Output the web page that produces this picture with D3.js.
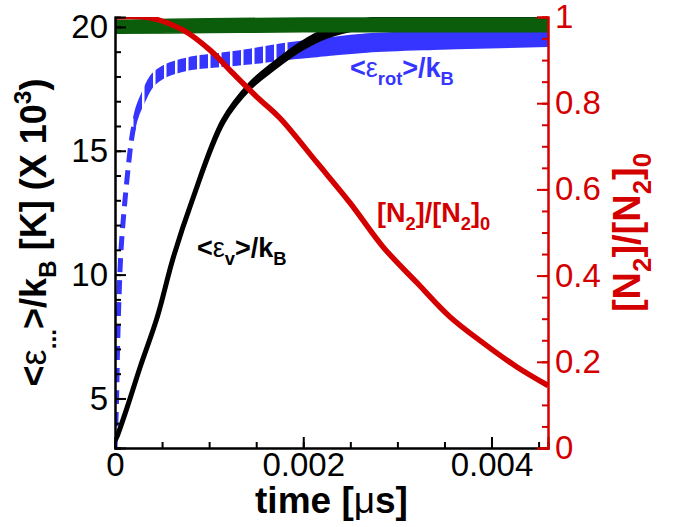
<!DOCTYPE html>
<html>
<head>
<meta charset="utf-8">
<script src="https://cdn.jsdelivr.net/npm/d3@7"></script>
<style>
  body { margin: 0; background: #fff; }
  svg { font-family: "Liberation Sans", Arial, sans-serif; }
</style>
</head>
<body>
<svg width="683" height="527"></svg>
<script>
// values (time in microseconds)
const vibTime  = [0, 0.00002, 0.00013, 0.00027, 0.00045, 0.00062, 0.00082, 0.00115, 0.00143, 0.00168, 0.00197, 0.00225, 0.00268, 0.00303, 0.0035, 0.004, 0.0046];
const vibTemp  = [3.3, 3.45, 4.65, 6.3, 8.3, 10.7, 13.0, 16.2, 17.6, 18.4, 19.2, 19.75, 20.15, 20.3, 20.32, 20.33, 20.33];
const vibNoise = [0, 0, 0, 0, 0, 0, 0, 0.03, 0.06, 0.08, 0.1, 0.12, 0.12, 0.12, 0.12, 0.12, 0.12];

const rotTime  = [0, 0.000016, 0.000027, 0.000042, 0.000064, 0.000106, 0.00016, 0.00019, 0.00023, 0.0003, 0.0004, 0.00055, 0.00077, 0.00108, 0.00143, 0.00179, 0.00215, 0.00268, 0.00338, 0.00409, 0.0046];
const rotTemp  = [3.0, 4.9, 7.0, 9.0, 11.0, 13.0, 15.0, 15.8, 16.5, 17.15, 17.85, 18.25, 18.5, 18.65, 18.8, 19.0, 19.15, 19.35, 19.47, 19.55, 19.6];
const rotNoise = [0, 0, 0, 0, 0, 0, 0.05, 0.1, 0.15, 0.18, 0.2, 0.2, 0.2, 0.22, 0.25, 0.28, 0.3, 0.32, 0.33, 0.34, 0.34];

const trTime  = [0, 0.001, 0.002, 0.003, 0.004, 0.0046];
const trTemp  = [20.0, 20.05, 20.08, 20.08, 20.08, 20.08];
const trNoise = [0.26, 0.28, 0.28, 0.28, 0.28, 0.28];

const n2Time = [0, 0.00037, 0.00072, 0.00101, 0.00125, 0.00151, 0.00175, 0.00215, 0.0025, 0.00285, 0.00321, 0.00356, 0.00391, 0.00427, 0.0046];
const n2Frac = [1.0, 0.998, 0.970, 0.923, 0.870, 0.814, 0.766, 0.661, 0.568, 0.466, 0.383, 0.304, 0.244, 0.188, 0.145];

const xMajor = [0, 0.002, 0.004];
const yMajor = [5, 10, 15, 20];
const rMajor = [0, 0.2, 0.4, 0.6, 0.8, 1];

const red = '#d40000', blue = '#3535ff', green = '#0b5d0b';

const svg = d3.select('svg');
const L = 115, R = 548, T = 17, B = 448;

const x = d3.scaleLinear().domain([0, 0.0046]).range([L, R]);
const yL = d3.scaleLinear().domain([3, 20.4]).range([B, T]);
const yR = d3.scaleLinear().domain([0, 1]).range([B, T]);

const defs = svg.append('defs');
defs.append('clipPath').attr('id', 'plot')
  .append('rect').attr('x', L).attr('y', T).attr('width', R - L).attr('height', B - T);

// vertical gaps that give the blue band its dashed look
const mask = defs.append('mask').attr('id', 'dash');
mask.append('rect').attr('x', 0).attr('y', 0).attr('width', 683).attr('height', 527).attr('fill', '#fff');
mask.selectAll('rect.gap')
  .data(d3.range(131, 290, 11))
  .enter()
  .append('rect')
  .attr('class', 'gap')
  .attr('x', d => d)
  .attr('y', 0)
  .attr('width', 2.5)
  .attr('height', 527)
  .attr('fill', '#000');

const zip = (t, v, n) => t.map((d, i) => ({t: d, v: v[i], n: n ? n[i] : 0}));
const vib = zip(vibTime, vibTemp, vibNoise),
      rot = zip(rotTime, rotTemp, rotNoise),
      tr = zip(trTime, trTemp, trNoise),
      n2 = zip(n2Time, n2Frac);

const smooth = d3.curveCatmullRom.alpha(0.5);
const band = d3.area()
  .x(d => x(d.t))
  .y0(d => yL(d.v - d.n))
  .y1(d => yL(d.v + d.n))
  .curve(smooth);
const lineL = d3.line().x(d => x(d.t)).y(d => yL(d.v)).curve(smooth);
const lineR = d3.line().x(d => x(d.t)).y(d => yR(d.v)).curve(smooth);

const plot = svg.append('g').attr('clip-path', 'url(#plot)');

// rotational energy (blue, dashed)
plot.append('path')
  .attr('d', lineL(rot.filter(d => d.t <= 0.00023)))
  .attr('fill', 'none')
  .attr('stroke', blue)
  .attr('stroke-width', 5)
  .attr('stroke-dasharray', '14,8');
plot.append('path')
  .attr('d', band(rot.filter(d => d.t >= 0.00019)))
  .attr('fill', blue)
  .attr('stroke', blue)
  .attr('stroke-width', 3.5)
  .attr('mask', 'url(#dash)');

// vibrational energy (black)
plot.append('path')
  .attr('d', band(vib))
  .attr('fill', '#000')
  .attr('stroke', '#000')
  .attr('stroke-width', 5)
  .attr('stroke-linejoin', 'round');

// translational (green)
plot.append('path')
  .attr('d', band(tr))
  .attr('fill', green)
  .attr('stroke', green)
  .attr('stroke-width', 1.5);

// N2 fraction (red, right axis)
plot.append('path')
  .attr('d', lineR(n2))
  .attr('fill', 'none')
  .attr('stroke', red)
  .attr('stroke-width', 5.5);

// axes
const tickFont = 33;

function styleAxis(g, color) {
  g.select('.domain').attr('stroke', color).attr('stroke-width', 2);
  g.selectAll('.tick line').attr('stroke', color).attr('stroke-width', 2);
  g.selectAll('.tick text').attr('fill', color).attr('font-size', tickFont)
    .attr('font-family', '"Liberation Sans", Arial, sans-serif');
}

svg.append('g')
  .attr('transform', `translate(0,${B})`)
  .call(d3.axisBottom(x).tickValues(d3.range(0, 0.00461, 0.0005)).tickSize(-6).tickFormat(''))
  .call(g => styleAxis(g, '#000'));
svg.append('g')
  .attr('transform', `translate(0,${B})`)
  .call(d3.axisBottom(x).tickValues(xMajor).tickSize(-11).tickPadding(5).tickFormat(d => d === 0 ? '0' : d3.format('.3f')(d)))
  .call(g => styleAxis(g, '#000'));

svg.append('g')
  .attr('transform', `translate(${L},0)`)
  .call(d3.axisLeft(yL).tickValues(d3.range(3, 20.5, 1)).tickSize(-6).tickFormat(''))
  .call(g => styleAxis(g, '#000'));
svg.append('g')
  .attr('transform', `translate(${L},0)`)
  .call(d3.axisLeft(yL).tickValues(yMajor).tickSize(-11).tickPadding(7))
  .call(g => styleAxis(g, '#000'));

svg.append('g')
  .attr('transform', `translate(${R},0)`)
  .call(d3.axisRight(yR).tickValues(d3.range(0, 1.01, 0.05)).tickSize(-6).tickFormat(''))
  .call(g => styleAxis(g, red));
svg.append('g')
  .attr('transform', `translate(${R},0)`)
  .call(d3.axisRight(yR).tickValues(rMajor).tickSize(-11).tickPadding(7).tickFormat(d => d === 0 || d === 1 ? d3.format('d')(d) : d3.format('.1f')(d)))
  .call(g => styleAxis(g, red));

// text with sub/superscripts
function rich(sel, parts, size) {
  let shift = 0;
  parts.forEach(([s, kind, light]) => {
    const target = kind === 'sub' ? 0.28 * size : kind === 'sup' ? -0.42 * size : 0;
    const t = sel.append('tspan').text(s).attr('dy', target - shift);
    shift = target;
    if (kind !== 'n') t.attr('font-size', size * 0.68);
    if (light) t.attr('font-weight', 'normal');
  });
}

const xTitle = svg.append('text')
  .attr('x', (L + R) / 2).attr('y', 513)
  .attr('text-anchor', 'middle').attr('font-size', 37).attr('font-weight', 'bold');
rich(xTitle, [['time [', 'n'], ['\u03bc', 'n', true], ['s]', 'n']], 37);

const yTitle = svg.append('text')
  .attr('transform', `translate(46,${(T + B) / 2}) rotate(-90)`)
  .attr('text-anchor', 'middle').attr('font-size', 36).attr('font-weight', 'bold');
rich(yTitle, [['<', 'n'], ['\u03b5', 'n', true], ['...', 'sub'], ['>/k', 'n'], ['B', 'sub'], [' [K] (X 10', 'n'], ['3', 'sup'], [')', 'n']], 36);

const rTitle = svg.append('text')
  .attr('transform', `translate(640,${(T + B) / 2}) rotate(-90)`)
  .attr('text-anchor', 'middle').attr('font-size', 38).attr('font-weight', 'bold').attr('fill', red);
rich(rTitle, [['[N', 'n'], ['2', 'sub'], [']/[N', 'n'], ['2', 'sub'], [']', 'n'], ['0', 'sub']], 38);

// curve labels
const rotLabel = svg.append('text').attr('x', 350).attr('y', 77)
  .attr('font-size', 27).attr('font-weight', 'bold').attr('fill', blue);
rich(rotLabel, [['<', 'n'], ['\u03b5', 'n', true], ['rot', 'sub'], ['>/k', 'n'], ['B', 'sub']], 27);

const vibLabel = svg.append('text').attr('x', 197).attr('y', 257)
  .attr('font-size', 27).attr('font-weight', 'bold').attr('fill', '#000');
rich(vibLabel, [['<', 'n'], ['\u03b5', 'n', true], ['v', 'sub'], ['>/k', 'n'], ['B', 'sub']], 27);

const n2Label = svg.append('text').attr('x', 377).attr('y', 222)
  .attr('font-size', 27).attr('font-weight', 'bold').attr('fill', red);
rich(n2Label, [['[N', 'n'], ['2', 'sub'], [']/[N', 'n'], ['2', 'sub'], [']', 'n'], ['0', 'sub']], 27);
</script>
</body>
</html>
